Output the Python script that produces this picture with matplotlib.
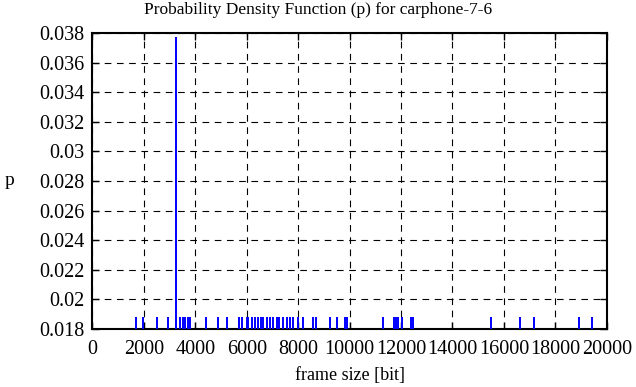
import matplotlib
matplotlib.use("Agg")
import matplotlib.pyplot as plt

# frame sizes [bit] and their probability
frame_size = [1690, 1950, 2500, 2925, 3240, 3400, 3510, 3610, 3700, 3800,
              4400, 4890, 5220, 5700, 5800, 6000, 6060, 6220, 6320, 6450,
              6540, 6620, 6780, 6900, 7030, 7160, 7270, 7420, 7550, 7680,
              7810, 7980, 8200, 8590, 8680, 9240, 9500, 9820, 9890, 11290,
              11730, 11810, 11900, 12030, 12380, 12480, 15490, 16630, 17170,
              18920, 19420]
p = [0.0188] * len(frame_size)
p[frame_size.index(3240)] = 0.0377

xticks = list(range(0, 20001, 2000))
yticks = [0.018 + 0.002 * i for i in range(11)]
ytick_labels = ["0.018", "0.02", "0.022", "0.024", "0.026", "0.028",
                "0.03", "0.032", "0.034", "0.036", "0.038"]

plt.rcParams['font.family'] = ['Liberation Serif', 'DejaVu Serif']
plt.rcParams['font.size'] = 12

fig = plt.figure(figsize=(6.36, 3.87), dpi=100)
ax = fig.add_axes([0.1454, 0.1499, 0.8086, 0.7648])

ax.vlines(frame_size, 0, p, colors='#0000ff', linewidth=1.4, zorder=3)

ax.set_xlim(0, 20000)
ax.set_ylim(0.018, 0.038)
ax.set_xticks(xticks)
ax.set_yticks(yticks)
ax.set_yticklabels(ytick_labels)
ax.grid(True, color='black', linestyle=(0, (6, 5)), linewidth=0.8)
ax.tick_params(direction='in', top=True, right=True, length=5, width=1,
               labelsize=14.5, pad=6)
ax.tick_params(axis='x', pad=8)
for s in ax.spines.values():
    s.set_linewidth(1.5)

fig.text(0.5, 0.975, 'Probability Density Function (p) for carphone-7-6',
         ha='center', va='center', fontsize=12.5)
ax.set_xlabel('frame size [bit]', fontsize=13, labelpad=6)
ax.set_ylabel('p', fontsize=14, rotation=0, labelpad=21, va='center')

fig.savefig('out.png', dpi=100)
